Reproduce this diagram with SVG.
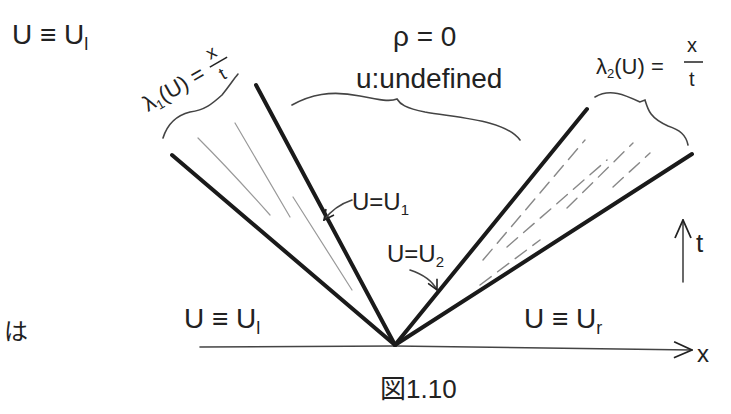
<svg xmlns="http://www.w3.org/2000/svg" width="731" height="414" viewBox="0 0 731 414">
<defs>
<style>
.t{font-family:"Liberation Sans","Noto Sans CJK JP",sans-serif;fill:#222;}
.bold{stroke:#1a1a1a;stroke-width:4;stroke-linecap:round;fill:none;}
.thin{stroke:#444;stroke-width:1.6;stroke-linecap:round;fill:none;}
.faint{stroke:#999;stroke-width:1.2;stroke-linecap:round;fill:none;}
.dash{stroke:#888;stroke-width:1.4;stroke-dasharray:14 8;stroke-linecap:round;fill:none;}
</style>
<marker id="ah" viewBox="0 0 12 12" refX="11" refY="6" markerWidth="12" markerHeight="12" markerUnits="userSpaceOnUse" orient="auto">
<path d="M1,1 L11,6 L1,11" fill="none" stroke="#222" stroke-width="1.6"/>
</marker>
<marker id="ahBig" viewBox="0 0 20 20" refX="19" refY="10" markerWidth="20" markerHeight="20" markerUnits="userSpaceOnUse" orient="auto">
<path d="M1,2 L19,10 L1,18" fill="none" stroke="#222" stroke-width="1.8"/>
</marker>
</defs>
<rect width="731" height="414" fill="#fff"/>

<g id="connectors">
  <path id="x-axis" class="thin" d="M200,347 L395,346 L692,350" marker-end="url(#ahBig)"/>
  <path id="t-axis" class="thin" d="M683,282 L683,220" marker-end="url(#ahBig)"/>
  <path class="bold" d="M172,155 L395,345"/>
  <path class="bold" d="M256,85 L395,345"/>
  <path class="faint" d="M198,138 Q230,170 270,215"/>
  <path class="faint" d="M235,123 L290,217"/>
  <path class="faint" d="M293,197 L352,290"/>
  <path class="bold" d="M395,345 L587,109"/>
  <path class="bold" d="M395,345 L692,154"/>
  <path class="dash" d="M483,260 L585,140"/>
  <path class="dash" d="M507,247 L607,160"/>
  <path class="dash" d="M567,208 L633,143"/>
  <path class="dash" d="M613,187 L650,153"/>
  <path class="dash" d="M480,285 L540,240"/>
  <path class="thin" d="M163,138 C168,122 178,115 190,112 C205,110 212,104 222,95 C230,85 233,80 238,74"/>
  <path class="thin" d="M292,105 C310,95 330,90 360,96 C380,100 390,102 397,99 C400,104 405,108 425,112 C460,118 505,120 520,140"/>
  <path class="thin" d="M595,97 C610,88 625,95 640,102 L645,100 C648,110 650,118 668,126 C680,130 686,135 688,145"/>
  <path class="thin" d="M352,200 C340,204 330,212 324,220" marker-end="url(#ah)"/>
  <path class="thin" d="M410,270 C422,274 432,280 437,290" marker-end="url(#ah)"/>
</g>

<g id="label-ul-top"><text class="t" x="12" y="44" font-size="28">U ≡ U<tspan font-size="18" dy="6">l</tspan></text></g>
<g id="label-lambda1" transform="translate(148,112) rotate(-30)">
  <text class="t" x="0" y="0" font-size="22">λ<tspan font-size="13" dy="4">1</tspan><tspan dy="-4">(U) =</tspan></text>
  <text class="t" x="80" y="-14" font-size="18">x</text>
  <line x1="76" y1="-8" x2="96" y2="-8" stroke="#222" stroke-width="1.5"/>
  <text class="t" x="81" y="10" font-size="18">t</text>
</g>
<g id="label-rho"><text class="t" x="393" y="46" font-size="28">ρ = 0</text></g>
<g id="label-u"><text class="t" x="356" y="88" font-size="28">u:undefined</text></g>
<g id="label-lambda2">
  <text class="t" x="596" y="74" font-size="22">λ<tspan font-size="13" dy="4">2</tspan><tspan dy="-4">(U) =</tspan></text>
  <text class="t" x="687" y="52" font-size="20">x</text>
  <line x1="684" y1="62" x2="703" y2="62" stroke="#222" stroke-width="1.5"/>
  <text class="t" x="689" y="86" font-size="20">t</text>
</g>
<g id="label-u1"><text class="t" x="352" y="210" font-size="24">U=U<tspan font-size="15" dy="5">1</tspan></text></g>
<g id="label-u2"><text class="t" x="387" y="262" font-size="24">U=U<tspan font-size="15" dy="5">2</tspan></text></g>
<g id="label-ul-bottom"><text class="t" x="184" y="328" font-size="28">U ≡ U<tspan font-size="18" dy="6">l</tspan></text></g>
<g id="label-ur"><text class="t" x="524" y="328" font-size="28">U ≡ U<tspan font-size="18" dy="6">r</tspan></text></g>
<g id="label-ha"><text class="t" x="4" y="340" font-size="24">は</text></g>
<g id="label-fig"><text class="t" x="380" y="398" font-size="26">図1.10</text></g>
<g id="label-x"><text class="t" x="697" y="362" font-size="24">x</text></g>
<g id="label-t"><text class="t" x="696" y="252" font-size="26">t</text></g>
</svg>
